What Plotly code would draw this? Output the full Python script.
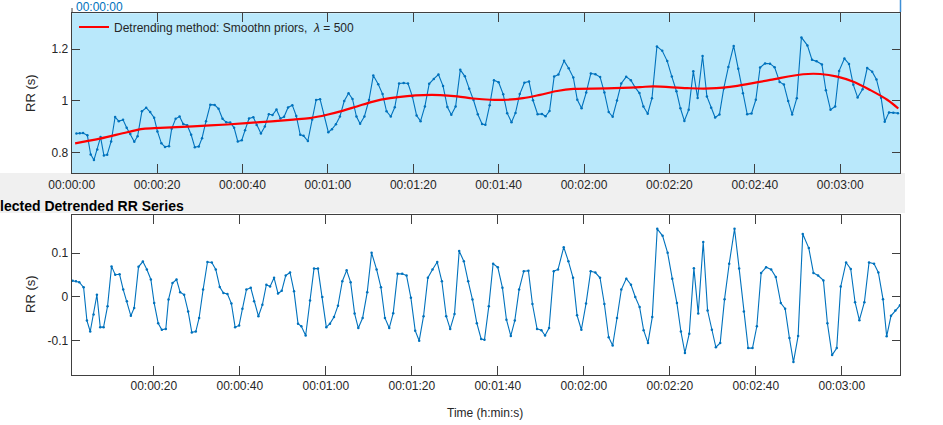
import plotly.graph_objects as go

# ---------------- data ----------------
beat_time_s = [
    1.11, 1.88, 2.66, 3.67, 4.44, 5.21, 5.99, 6.76, 7.54, 8.31,
    9.24, 10.17, 11.02, 12.03, 12.88, 13.73, 14.66, 15.43, 16.44, 17.45,
    18.38, 19.31, 20.08, 21.01, 21.86, 22.79, 23.41, 24.34, 25.27, 26.12,
    27.05, 27.98, 28.83, 29.76, 30.53, 31.46, 32.47, 33.48, 34.40, 35.33,
    36.19, 37.12, 38.04, 38.90, 39.83, 40.60, 41.53, 42.54, 43.31, 44.32,
    45.24, 46.17, 47.03, 47.96, 48.88, 49.74, 50.67, 51.67, 52.60, 53.53,
    54.30, 55.31, 56.32, 57.25, 58.17, 59.18, 60.11, 60.96, 61.89, 62.82,
    63.83, 64.84, 65.76, 66.69, 67.55, 68.55, 69.63, 70.64, 71.80, 72.81,
    73.74, 74.74, 75.67, 76.68, 77.76, 78.77, 79.78, 80.78, 81.71, 82.72,
    83.73, 84.81, 85.90, 86.98, 87.99, 88.91, 89.92, 91.01, 92.09, 93.10,
    94.10, 95.11, 96.12, 96.89, 97.90, 98.90, 99.99, 101.07, 102.00, 103.01,
    103.94, 104.94, 106.03, 107.11, 108.04, 109.12, 110.13, 110.98, 111.91, 113.00,
    114.00, 115.32, 116.40, 117.49, 118.42, 119.42, 120.51, 121.59, 122.67, 123.76,
    124.77, 125.77, 126.70, 127.71, 128.71, 129.87, 130.96, 131.96, 132.97, 133.90,
    134.91, 135.91, 137.07, 138.31, 139.48, 140.56, 141.64, 142.57, 143.50, 144.51,
    145.59, 146.60, 147.76, 148.77, 149.77, 150.70, 151.71, 152.72, 153.80, 155.04,
    156.12, 157.21, 158.21, 159.22, 160.23, 161.23, 162.39, 163.56, 164.64, 165.80,
    166.81, 167.81, 168.74, 169.83, 170.91, 172.31, 173.39, 174.47, 175.71, 176.64,
    177.73, 178.81, 179.74, 180.98, 182.06, 183.07, 184.07, 185.24, 186.32, 187.48,
    188.49, 189.57, 190.42, 191.43, 192.44, 193.52,
]

rr_s = [
    0.873, 0.874, 0.875, 0.866, 0.792, 0.770, 0.811, 0.859, 0.788, 0.791,
    0.842, 0.937, 0.921, 0.926, 0.895, 0.871, 0.841, 0.862, 0.959, 0.973,
    0.956, 0.934, 0.881, 0.835, 0.821, 0.824, 0.891, 0.930, 0.939, 0.910,
    0.905, 0.868, 0.820, 0.823, 0.855, 0.921, 0.985, 0.984, 0.969, 0.930,
    0.917, 0.916, 0.895, 0.842, 0.847, 0.886, 0.931, 0.936, 0.906, 0.873,
    0.900, 0.948, 0.945, 0.966, 0.931, 0.938, 0.974, 0.983, 0.941, 0.868,
    0.864, 0.844, 0.927, 1.003, 1.006, 0.944, 0.878, 0.890, 0.909, 0.939,
    0.999, 1.029, 1.007, 0.939, 0.911, 0.939, 1.003, 1.098, 1.064, 1.026,
    0.959, 0.939, 0.975, 1.067, 1.069, 1.067, 1.017, 0.943, 0.921, 0.978,
    1.066, 1.085, 1.102, 1.057, 0.976, 0.946, 0.978, 1.120, 1.095, 1.047,
    1.003, 0.948, 0.910, 0.907, 0.983, 1.080, 1.072, 1.025, 0.952, 0.917,
    0.953, 1.026, 1.070, 1.075, 1.002, 0.948, 0.949, 0.940, 0.960, 1.094,
    1.102, 1.155, 1.126, 1.090, 1.004, 0.971, 1.032, 1.106, 1.103, 1.092,
    1.032, 0.956, 0.938, 1.001, 1.067, 1.093, 1.080, 1.052, 1.030, 0.978,
    0.950, 1.010, 1.211, 1.194, 1.154, 1.094, 1.037, 0.971, 0.922, 0.965,
    1.115, 1.011, 1.174, 1.017, 0.973, 0.935, 0.947, 1.048, 1.131, 1.213,
    1.124, 1.029, 0.948, 0.951, 1.004, 1.129, 1.145, 1.144, 1.130, 1.073,
    1.063, 0.999, 0.947, 1.010, 1.246, 1.215, 1.159, 1.153, 1.141, 1.041,
    0.965, 0.978, 1.116, 1.164, 1.143, 1.062, 1.013, 1.045, 1.127, 1.113,
    1.083, 1.012, 0.919, 0.955, 0.954, 0.952,
]

detrended_rr_s = [
    0.037, 0.036, 0.034, 0.022, -0.054, -0.079, -0.040, 0.005, -0.069, -0.069,
    -0.021, 0.070, 0.051, 0.052, 0.017, -0.010, -0.043, -0.025, 0.069, 0.081,
    0.063, 0.040, -0.014, -0.060, -0.075, -0.073, -0.006, 0.032, 0.040, 0.011,
    0.005, -0.033, -0.081, -0.079, -0.048, 0.017, 0.080, 0.079, 0.063, 0.023,
    0.009, 0.007, -0.015, -0.069, -0.065, -0.027, 0.017, 0.021, -0.010, -0.044,
    -0.018, 0.028, 0.024, 0.044, 0.008, 0.014, 0.049, 0.056, 0.013, -0.061,
    -0.067, -0.088, -0.008, 0.065, 0.065, 0.000, -0.069, -0.061, -0.046, -0.020,
    0.036, 0.061, 0.034, -0.038, -0.071, -0.048, 0.011, 0.101, 0.063, 0.022,
    -0.048, -0.071, -0.037, 0.053, 0.053, 0.049, -0.002, -0.077, -0.100, -0.044,
    0.044, 0.063, 0.080, 0.036, -0.044, -0.073, -0.039, 0.105, 0.082, 0.036,
    -0.006, -0.060, -0.096, -0.098, -0.021, 0.076, 0.068, 0.021, -0.052, -0.089,
    -0.054, 0.017, 0.059, 0.060, -0.016, -0.073, -0.076, -0.088, -0.071, 0.059,
    0.063, 0.114, 0.082, 0.044, -0.042, -0.075, -0.015, 0.059, 0.056, 0.044,
    -0.016, -0.092, -0.111, -0.048, 0.017, 0.042, 0.028, 0.000, -0.023, -0.076,
    -0.105, -0.046, 0.156, 0.140, 0.101, 0.042, -0.014, -0.079, -0.128, -0.084,
    0.066, -0.038, 0.126, -0.031, -0.075, -0.115, -0.105, -0.005, 0.076, 0.156,
    0.065, -0.033, -0.117, -0.117, -0.067, 0.055, 0.068, 0.063, 0.046, -0.014,
    -0.027, -0.094, -0.149, -0.089, 0.144, 0.112, 0.055, 0.049, 0.038, -0.060,
    -0.133, -0.117, 0.024, 0.079, 0.064, -0.012, -0.053, -0.012, 0.079, 0.076,
    0.056, -0.005, -0.090, -0.043, -0.031, -0.019,
]

trend_time_s = [0.8, 6.6, 13.0, 16.7, 20.7, 28.4, 36.4, 44.1, 51.9, 55.8,
                59.8, 63.6, 66.8, 70.6, 74.6, 78.6, 82.3, 86.3, 90.3, 94.0,
                98.0, 102.0, 105.7, 109.7, 113.7, 117.5, 125.4, 133.1, 136.2, 144.2,
                149.5, 155.9, 163.6, 171.3, 175.3, 179.3, 183.1, 187.0, 191.0, 193.6]
trend_s = [0.835, 0.853, 0.878, 0.891, 0.895, 0.901, 0.908, 0.917, 0.927, 0.933,
           0.946, 0.962, 0.978, 0.997, 1.010, 1.018, 1.022, 1.022, 1.017, 1.009,
           1.004, 1.004, 1.010, 1.023, 1.038, 1.046, 1.048, 1.053, 1.056, 1.049,
           1.048, 1.058, 1.081, 1.103, 1.104, 1.094, 1.074, 1.042, 1.004, 0.970]

top_tick_s = [0, 20, 40, 60, 80, 100, 120, 140, 160, 180]
top_tick_labels = ["00:00:00", "00:00:20", "00:00:40", "00:01:00", "00:01:20",
                   "00:01:40", "00:02:00", "00:02:20", "00:02:40", "00:03:00"]
bottom_tick_s = top_tick_s[1:]
bottom_tick_labels = top_tick_labels[1:]

top_y_ticks = [0.8, 1.0, 1.2]
top_y_labels = ["0.8", "1", "1.2"]
bottom_y_ticks = [-0.1, 0.0, 0.1]
bottom_y_labels = ["-0.1", "0", "0.1"]

legend_label = "Detrending method: Smoothn priors,  <i>λ</i> = 500"

# ---------------- figure ----------------
W, H = 943, 425
FONT = "Liberation Sans, Arial, sans-serif"
FS = 12
AX = "#404040"
TXT = "#262626"
BLUE = "#0072BD"

def px(xp):
    return xp / W

def py(yp):
    return 1 - yp / H

xdom = [px(71.7), px(900)]
top_dom = [py(173.3), py(13.3)]
bot_dom = [py(375), py(215)]

fig = go.Figure()

fig.add_trace(go.Scatter(
    x=beat_time_s, y=rr_s, mode="lines+markers",
    line=dict(color=BLUE, width=1.1), marker=dict(color=BLUE, size=2.5),
    showlegend=False, xaxis="x", yaxis="y"))
fig.add_trace(go.Scatter(
    x=trend_time_s, y=trend_s, mode="lines", line=dict(color="#FF0000", width=2.2, shape="spline"),
    name=legend_label, showlegend=True, xaxis="x", yaxis="y"))
fig.add_trace(go.Scatter(
    x=beat_time_s, y=detrended_rr_s, mode="lines+markers",
    line=dict(color=BLUE, width=1.1), marker=dict(color=BLUE, size=2.5),
    showlegend=False, xaxis="x2", yaxis="y2"))

axis_common = dict(showline=True, linecolor=AX, linewidth=1, mirror="ticks",
                   ticks="inside", tickcolor=AX, tickwidth=1, showgrid=False,
                   zeroline=False, tickfont=dict(family=FONT, size=FS, color=TXT),
                   fixedrange=True, automargin=False)

fig.update_layout(
    template="none",
    width=W, height=H,
    margin=dict(l=0, r=0, t=0, b=0, pad=0, autoexpand=False),
    paper_bgcolor="white", plot_bgcolor="white",
    xaxis=dict(domain=xdom, anchor="y", range=[0, 194], tickmode="array",
               tickvals=top_tick_s, ticktext=top_tick_labels, ticklen=9, **axis_common),
    yaxis=dict(domain=top_dom, anchor="x", range=[0.7186, 1.3395], tickmode="array",
               tickvals=top_y_ticks, ticktext=top_y_labels, ticklen=8, **axis_common),
    xaxis2=dict(domain=xdom, anchor="y2", range=[0.9, 193.52], tickmode="array",
                tickvals=bottom_tick_s, ticktext=bottom_tick_labels, ticklen=9, **axis_common),
    yaxis2=dict(domain=bot_dom, anchor="x2", range=[-0.1785, 0.1876], tickmode="array",
                tickvals=bottom_y_ticks, ticktext=bottom_y_labels, ticklen=8, **axis_common),
    legend=dict(x=px(74), y=py(12.5), xanchor="left", yanchor="top",
                bgcolor="rgba(0,0,0,0)", borderwidth=0,
                font=dict(family=FONT, size=FS, color=TXT)),
    shapes=[
        dict(type="rect", xref="paper", yref="paper", x0=0, x1=px(905),
             y0=py(213), y1=py(173), fillcolor="#F0F0F0", line=dict(width=0), layer="below"),
        dict(type="rect", xref="x domain", yref="y domain", x0=0, x1=1, y0=0, y1=1,
             fillcolor="#B9E8FB", line=dict(width=0), layer="below"),
        dict(type="line", xref="paper", yref="paper", x0=px(900.5), x1=px(900.5),
             y0=py(0), y1=py(12), line=dict(color="#3d8fd6", width=1.5)),
        dict(type="line", xref="paper", yref="paper", x0=px(72), x1=px(72),
             y0=py(8), y1=py(13), line=dict(color=AX, width=1)),
    ],
    annotations=[
        dict(text="00:00:00", xref="paper", yref="paper", x=px(74), y=py(7),
             xanchor="left", yanchor="middle", showarrow=False,
             font=dict(family=FONT, size=FS, color=BLUE)),
        dict(text="<b>Selected Detrended RR Series</b>", xref="paper", yref="paper",
             x=px(186), y=py(206), xanchor="right", yanchor="middle", showarrow=False,
             font=dict(family=FONT, size=14, color="black")),
        dict(text="RR (s)", xref="paper", yref="paper", x=px(31), y=py(93),
             xanchor="center", yanchor="middle", textangle=-90, showarrow=False,
             font=dict(family=FONT, size=13, color=TXT)),
        dict(text="RR (s)", xref="paper", yref="paper", x=px(30), y=py(294),
             xanchor="center", yanchor="middle", textangle=-90, showarrow=False,
             font=dict(family=FONT, size=13, color=TXT)),
        dict(text="Time (h:min:s)", xref="paper", yref="paper", x=px(485), y=py(413),
             xanchor="center", yanchor="middle", showarrow=False,
             font=dict(family=FONT, size=FS, color=TXT)),
    ],
)

fig.write_html(
    "out.html",
    config={"displayModeBar": False},
    post_script="document.body.style.margin='0';document.body.style.overflow='hidden';",
)
